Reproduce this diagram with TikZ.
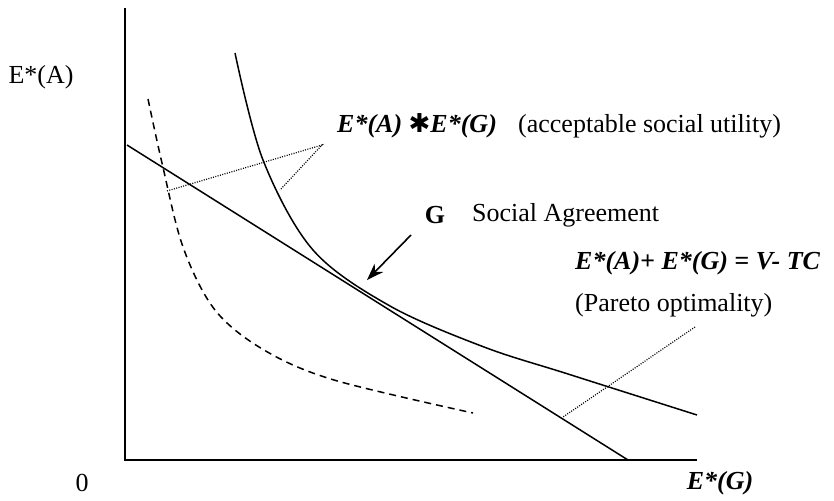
\documentclass[tikz,border=0pt]{standalone}
\usepackage{fontspec}
\setmainfont{Liberation Serif}
\newfontfamily\djv{DejaVu Sans}
\usetikzlibrary{arrows.meta}
\begin{document}
\begin{tikzpicture}[x=1pt,y=-1pt,
  lbl/.style={inner sep=0pt,font=\fontsize{26}{30}\selectfont},
  bilbl/.style={lbl,font=\fontsize{26}{30}\selectfont\bfseries\itshape},
  axis/.style={line width=2pt},
  curve/.style={line width=1.5pt},
  dashcurve/.style={line width=1.5pt,dash pattern=on 7pt off 5pt},
  dotline/.style={line width=1.2pt,dash pattern=on 1pt off 1.4pt},
  pointer/.style={line width=1.6pt,-{Stealth[length=17pt,width=12pt]}}]
\useasboundingbox (0,0) rectangle (834,500);
% axes
\coordinate (O) at (125,460);
\coordinate (ytop) at (125,8);
\coordinate (xend) at (697,460);
\draw[axis] (ytop) -- (O) -- (xend);
% budget line
\coordinate (L1) at (127,145);
\coordinate (L2) at (628,460);
\draw[curve] (L1) -- (L2);
% indifference curve (solid)
\draw[curve] plot[smooth,tension=0.55] coordinates {(235,53) (263,160) (313,250) (390,306) (484,347) (568,374) (697,415)};
% dashed curve
\draw[dashcurve] plot[smooth,tension=0.55] coordinates {(148,99) (162,163) (183,247) (215,310) (264,350) (334,380) (473,413)};
% labels
\node[lbl] (EA) at (41,77) {E*(A)};
\node[lbl] (zero) at (82,483) {0};
\node[bilbl] (EG) at (720,483) {E*(G)};
\node[bilbl,anchor=west] (prod) at (337,126) {E*(A) {\djv\bfseries ✱}E*(G)};
\node[lbl,anchor=west] (accept) at (518,126) {(acceptable social utility)};
\node[lbl,font=\fontsize{26}{30}\selectfont\bfseries] (G) at (435,215) {G};
\node[lbl,anchor=west] (soc) at (472,215) {Social Agreement};
\node[bilbl,anchor=west] (pareq) at (575,263) {E*(A)+ E*(G) = V- TC};
\node[lbl,anchor=west] (pareto) at (575,305) {(Pareto optimality)};
% dotted pointers
\coordinate (apex) at (322,145);
\coordinate (dl) at (167,191);
\coordinate (dr) at (280,190);
\draw[dotline] (dl) -- (apex) -- (dr);
\coordinate (p1) at (695,327);
\coordinate (p2) at (563,417);
\draw[dotline] (p1) -- (p2);
% arrow to G point
\coordinate (a1) at (411,235);
\coordinate (a2) at (367,280);
\draw[pointer] (a1) -- (a2);
\end{tikzpicture}
\end{document}
